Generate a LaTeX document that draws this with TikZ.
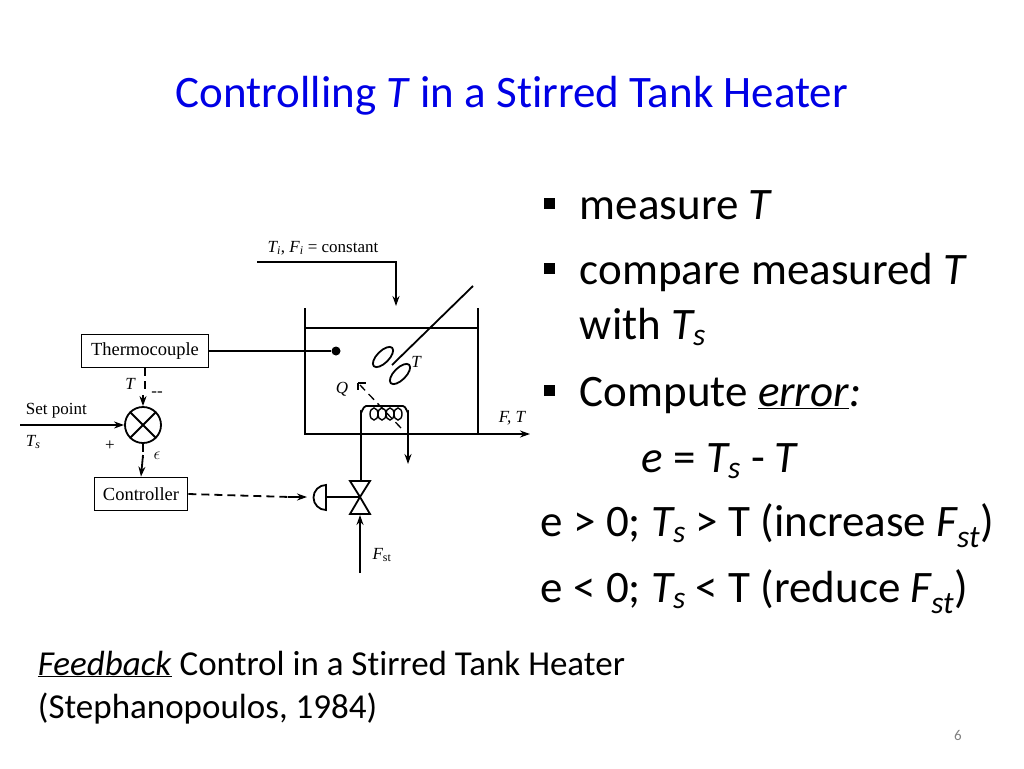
\documentclass[tikz,border=0pt]{standalone}
\usepackage{fontspec}
\setmainfont{Carlito}[Ligatures=NoCommon]
\newfontfamily\dfont{Liberation Serif}
\usetikzlibrary{arrows.meta}
\newcommand{\sbs}[1]{\textsubscript{#1}}
\begin{document}
\begin{tikzpicture}[x=1pt,y=-1pt,line width=1.8pt,
  box/.style={draw,font=\dfont\fontsize{18.5}{20}\selectfont,inner sep=0pt},
  lab/.style={font=\dfont\fontsize{17}{19}\selectfont\itshape},
  lab2/.style={font=\dfont\fontsize{17}{19}\selectfont},
  arr/.style={-{Stealth[length=10pt,width=7pt]}},
  dsh/.style={dashed,dash pattern=on 8pt off 5pt},
  big/.style={font=\fontsize{45}{50}\selectfont,anchor=base west,inner sep=0pt}]
\useasboundingbox (0,0) rectangle (1024,768);
\node[font=\fontsize{45}{50}\selectfont,text=blue!90!black] (title) at (512,96) {Controlling \textit{T} in a Stirred Tank Heater};
% tank
\draw (305,308) -- (305,434) -- (478,434) (478,308) -- (478,434);
\draw (305,328) -- (478,328);
\coordinate (outA) at (478,434); \coordinate (outB) at (530,434);
\draw[arr] (outA) -- (outB);
\node[lab] (FT) at (512,418) {F, T};
% inlet
\coordinate (in0) at (257,262); \coordinate (in1) at (396,262); \coordinate (in2) at (396,306);
\draw[arr] (in0) -- (in1) -- (in2);
\node[lab2] (inl) at (323,248) {\textit{T\sbs{i}}, \textit{F\sbs{i}} = constant};
% stirrer
\coordinate (s0) at (473,286); \coordinate (hub) at (392,365);
\draw (s0) -- (hub);
\draw[rotate around={45:(383,357)}] (383,357) ellipse (13pt and 6pt);
\draw[rotate around={45:(400,374)}] (400,374) ellipse (13pt and 6pt);
\node[lab] (Tt) at (416,362) {T};
% sensor
\node[circle,fill,inner sep=0pt,minimum size=9pt] (dot) at (336,351) {};
\node[box,minimum width=127pt,minimum height=33pt] (tc) at (145,351) {Thermocouple};
\draw (tc.east) -- (dot);
% summing junction
\node[draw,circle,minimum size=36pt,inner sep=0pt] (sum) at (143,425) {};
\draw (sum.45) -- (sum.225) (sum.135) -- (sum.-45);
\draw[dsh] (tc.south) -- ++(0,22);
\draw[arr] (143,395) -- (sum.north);
\node[lab] (Tm) at (130,384) {T};
\node[lab2] (minus) at (157,394) {--};
\coordinate (sp) at (20,425);
\draw[arr] (sp) -- (sum.west);
\node[lab2,anchor=west,inner sep=0pt] (spl) at (25,411) {Set point};
\node[lab,anchor=west,inner sep=0pt] (tsl) at (25,442) {T\sbs{s}};
\node[lab2] (plus) at (110,446) {+};
\node[box,minimum width=93pt,minimum height=33pt] (ctrl) at (141,494) {Controller};
\draw[dsh] (sum.south) -- ++(0,14);
\draw[arr] (143,455) -- (ctrl.north);
\node[lab] (eps) at (157,456) {$\epsilon$};
% actuator and valve
\coordinate (act) at (307,497);
\coordinate (actb) at (290,497);
\draw[dsh] (ctrl.east) -- (actb);
\draw[arr] (288,497) -- (act);
\draw (326,510) arc (90:270:12.5) -- cycle;
\coordinate (vc) at (360,497);
\draw (326,497) -- (vc);
\draw (350,481) -- (370,481) -- (vc) -- cycle;
\draw (350,514) -- (370,514) -- (vc) -- cycle;
\coordinate (fst0) at (360,573); \coordinate (fst1) at (360,515);
\draw[arr] (fst0) -- (fst1);
\node[lab] (fst) at (382,555) {F\sbs{\upshape st}};
% steam coil
\coordinate (p0) at (361,481); \coordinate (p3) at (408,464);
\draw (p0) -- (361,412) to[out=-90,in=180] (366,406) -- (403,406) to[out=0,in=-90] (408,412) -- (408,440);
\draw[arr] (408,434) -- (p3);
\foreach \cx in {374,382,390,398} \draw[line width=1.4pt] (\cx,414) ellipse (4pt and 6pt);
\draw[dsh,line width=1.3pt] (401,428) -- (360,385);
\draw[line width=1.3pt] (358,383) -- (366,383) (358,383) -- (358,390);
\node[lab] (Q) at (342,389) {Q};
% right text
\fill (544,198) rectangle (555,209);
\fill (544,263) rectangle (555,274);
\fill (544,385) rectangle (555,396);
\node[big] (b1) at (579,219) {measure \textit{T}};
\node[big] (b2) at (579,284) {compare measured \textit{T}};
\node[big] (b2b) at (579,339) {with \textit{T\sbs{s}}};
\node[big] (b3) at (579,406) {Compute \underline{\textit{error}}\textit{:}};
\node[big] (eq) at (641,472) {\textit{e} = \textit{T\sbs{s}} - \textit{T}};
\node[big] (e1) at (540,536) {e > 0; \textit{T\sbs{s}} > T (increase \textit{F\sbs{st}})};
\node[big] (e2) at (540,602) {e < 0; \textit{T\sbs{s}} < T (reduce \textit{F\sbs{st}})};
\node[font=\fontsize{35}{40}\selectfont,anchor=base west,inner sep=0pt] (c1) at (37,675) {\underline{\textit{Feedback}} Control in a Stirred Tank Heater};
\node[font=\fontsize{35}{40}\selectfont,anchor=base west,inner sep=0pt] (c2) at (37,718) {(Stephanopoulos, 1984)};
\node[font=\fontsize{15}{17}\selectfont,text=gray] (pg) at (958,735) {6};
\end{tikzpicture}
\end{document}
